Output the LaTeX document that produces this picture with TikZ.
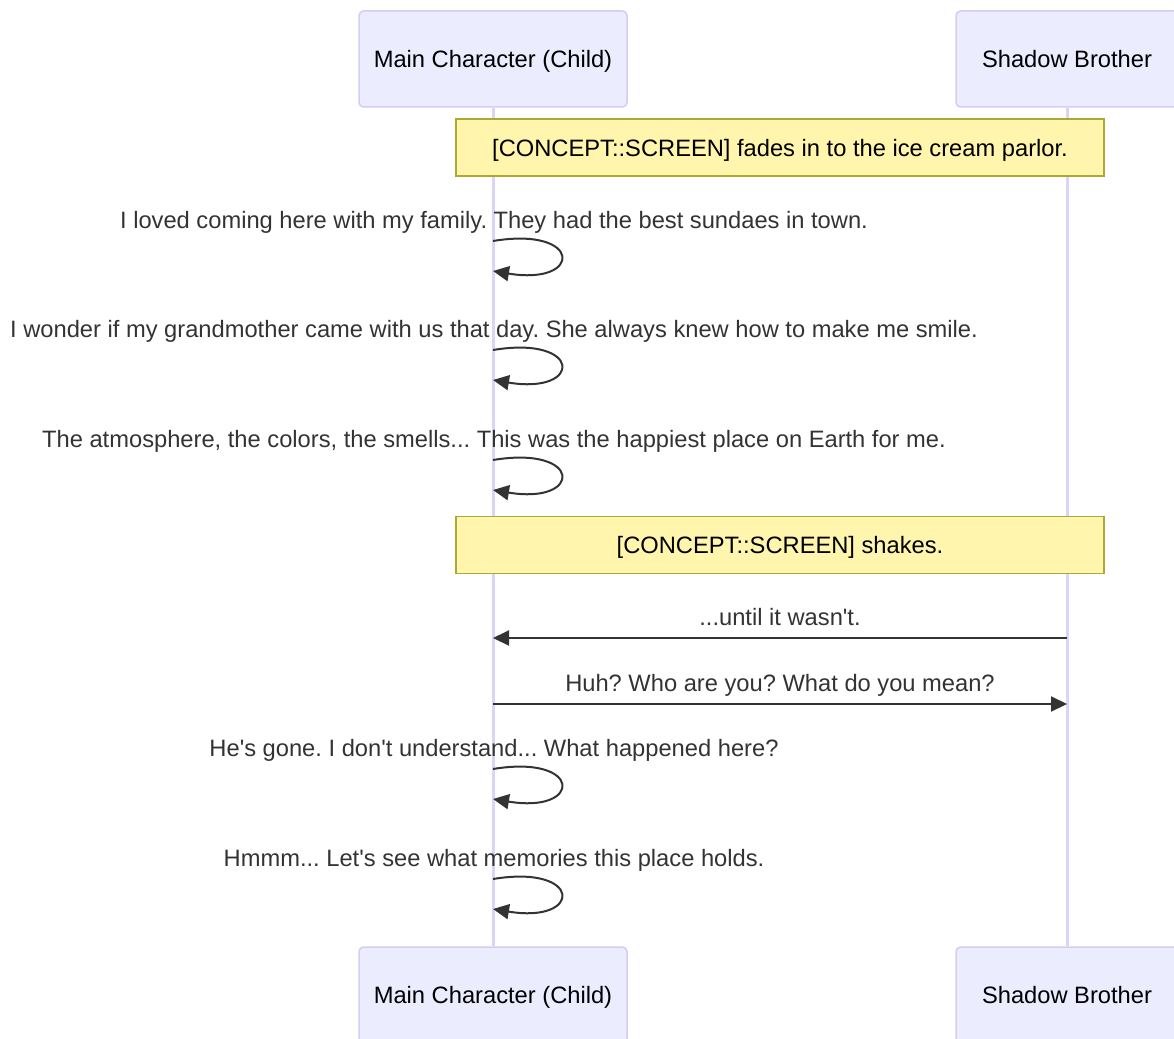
\documentclass[tikz,border=0pt]{standalone}
\usepackage{fontspec}
\setmainfont{Liberation Sans}
\usetikzlibrary{arrows.meta}

\definecolor{actorfill}{HTML}{ECECFF}
\definecolor{actorline}{HTML}{D5CCF4}
\definecolor{lifeline}{HTML}{DDD3F6}
\definecolor{notefill}{HTML}{FFF5AD}
\definecolor{noteline}{HTML}{AAAA33}
\definecolor{msgtext}{HTML}{333333}

\frenchspacing

\begin{document}
\begin{tikzpicture}[x=1pt, y=-1pt, >={Triangle[length=16pt, width=15pt]},
        font=\fontsize{23.7}{28}\selectfont,
        every node/.style={text height=22pt, text depth=5pt},
        actor/.style={draw=actorline, fill=actorfill, line width=1.5pt, rounded corners=4.5pt, minimum height=96pt, inner sep=0pt},
        note/.style={draw=noteline, fill=notefill, line width=1.5pt, minimum width=648pt, minimum height=57pt, inner sep=0pt},
        msg/.style={text=msgtext, inner sep=0pt},
        life/.style={draw=lifeline, line width=3pt},
        call/.style={->, draw=msgtext, line width=2pt}]
        \useasboundingbox (0,0) rectangle (1174,1038);

        % actors, top and bottom
        \node[actor, minimum width=268pt] (mainTop) at (493,59) {Main Character (Child)};
        \node[actor, minimum width=222pt] (shadowTop) at (1067,59) {Shadow Brother};
        \node[actor, minimum width=268pt] (mainBot) at (493,995) {Main Character (Child)};
        \node[actor, minimum width=222pt] (shadowBot) at (1067,995) {Shadow Brother};
        \draw[life] (mainTop) -- (mainBot);
        \draw[life] (shadowTop) -- (shadowBot);

        \node[note] (fadeIn) at (780,147.5) {[CONCEPT::SCREEN] fades in to the ice cream parlor.};

        \node[msg] (family) at (494,220) {I loved coming here with my family. They had the best sundaes in town.};
        \coordinate (fa) at (493,241);
        \coordinate (fb) at (493,271);
        \draw[call] (fa) .. controls +(90,-15) and +(90,15) .. (fb);

        \node[msg] (grandma) at (494,329) {I wonder if my grandmother came with us that day. She always knew how to make me smile.};
        \coordinate (ga) at (493,350);
        \coordinate (gb) at (493,380);
        \draw[call] (ga) .. controls +(90,-15) and +(90,15) .. (gb);

        \node[msg] (happy) at (494,439) {The atmosphere, the colors, the smells... This was the happiest place on Earth for me.};
        \coordinate (ha) at (493,460);
        \coordinate (hb) at (493,490);
        \draw[call] (ha) .. controls +(90,-15) and +(90,15) .. (hb);

        \node[note] (shake) at (780,545) {[CONCEPT::SCREEN] shakes.};

        \node[msg] (until) at (780,617) {...until it wasn\textquotesingle t.};
        \coordinate (ua) at (1067,638);
        \coordinate (ub) at (493,638);
        \draw[call] (ua) -- (ub);

        \node[msg] (who) at (780,683) {Huh? Who are you? What do you mean?};
        \coordinate (wa) at (493,704);
        \coordinate (wb) at (1067,704);
        \draw[call] (wa) -- (wb);

        \node[msg] (gone) at (494,748) {He\textquotesingle s gone. I don\textquotesingle t understand... What happened here?};
        \coordinate (ga2) at (493,769);
        \coordinate (gb2) at (493,799);
        \draw[call] (ga2) .. controls +(90,-15) and +(90,15) .. (gb2);

        \node[msg] (memories) at (494,858) {Hmmm... Let\textquotesingle s see what memories this place holds.};
        \coordinate (ma) at (493,879);
        \coordinate (mb) at (493,909);
        \draw[call] (ma) .. controls +(90,-15) and +(90,15) .. (mb);
    \end{tikzpicture}
\end{document}
